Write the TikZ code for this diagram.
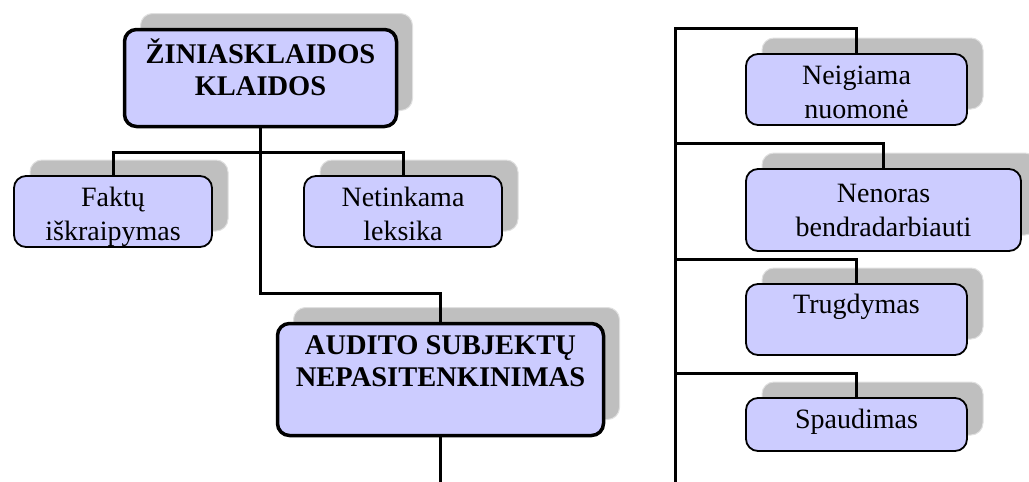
\documentclass[tikz,border=0pt]{standalone}
\usepackage{fontspec}
\setmainfont{Liberation Serif}
\usetikzlibrary{shadows}
\begin{document}
\begin{tikzpicture}[x=1pt,y=-1pt,line width=3pt]
    \tikzstyle{box}=[draw,rounded corners=12pt,fill={rgb,255:red,204;green,204;blue,255},
      line width=1.8pt,align=center,inner sep=0pt,font=\fontsize{28}{34}\selectfont,
      general shadow={fill=black!25,draw=black!12,line width=1pt,shadow xshift=16pt,shadow yshift=16pt}]
    \tikzstyle{mainbox}=[box,line width=3.5pt,font=\bfseries\fontsize{28.5}{32}\selectfont]
    \tikzstyle{lowtext}=[text height=57pt,text depth=0pt]
    \useasboundingbox (0,0) rectangle (1029,482);

    % left tree
    \node[mainbox,minimum width=272pt,minimum height=97pt,text depth=22pt] (klaidos) at (260.5,78) {ŽINIASKLAIDOS\\KLAIDOS};
    \node[box,lowtext,minimum width=198pt,minimum height=71pt] (faktu) at (113,211.5) {Faktų\\iškraipymas};
    \node[box,lowtext,minimum width=198pt,minimum height=71pt] (leksika) at (403,211.5) {Netinkama\\leksika};
    \node[mainbox,minimum width=326pt,minimum height=112pt,text depth=36pt] (audito) at (440.5,379.5) {AUDITO SUBJEKTŲ\\NEPASITENKINIMAS};

    \coordinate (bend) at (262,293);
    \coordinate (bottom) at (440.5,482);
    \draw (klaidos.south) -- (klaidos.south |- bend) -| (audito.north);
    \draw (faktu.north) -- ++(0,-23) -| (leksika.north);
    \draw (audito.south) -- (bottom);

    % right tree
    \node[box,lowtext,minimum width=221pt,minimum height=71pt] (neigiama) at (856.5,89.5) {Neigiama\\nuomonė};
    \node[box,minimum width=275pt,minimum height=82pt] (nenoras) at (883.5,210) {Nenoras\\bendradarbiauti};
    \node[box,minimum width=221pt,minimum height=71pt,text depth=32pt] (trugdymas) at (856.5,319.5) {Trugdymas};
    \node[box,minimum width=221pt,minimum height=53pt,text depth=12pt] (spaudimas) at (856.5,424.5) {Spaudimas};

    \coordinate (top) at (675,28);
    \coordinate (end) at (675,482);
    \draw (neigiama.north) |- (top) -- (end);
    \foreach \n/\y in {nenoras/143,trugdymas/259,spaudimas/373}
    \draw (675,\y) -| (\n.north);
  \end{tikzpicture}
\end{document}
